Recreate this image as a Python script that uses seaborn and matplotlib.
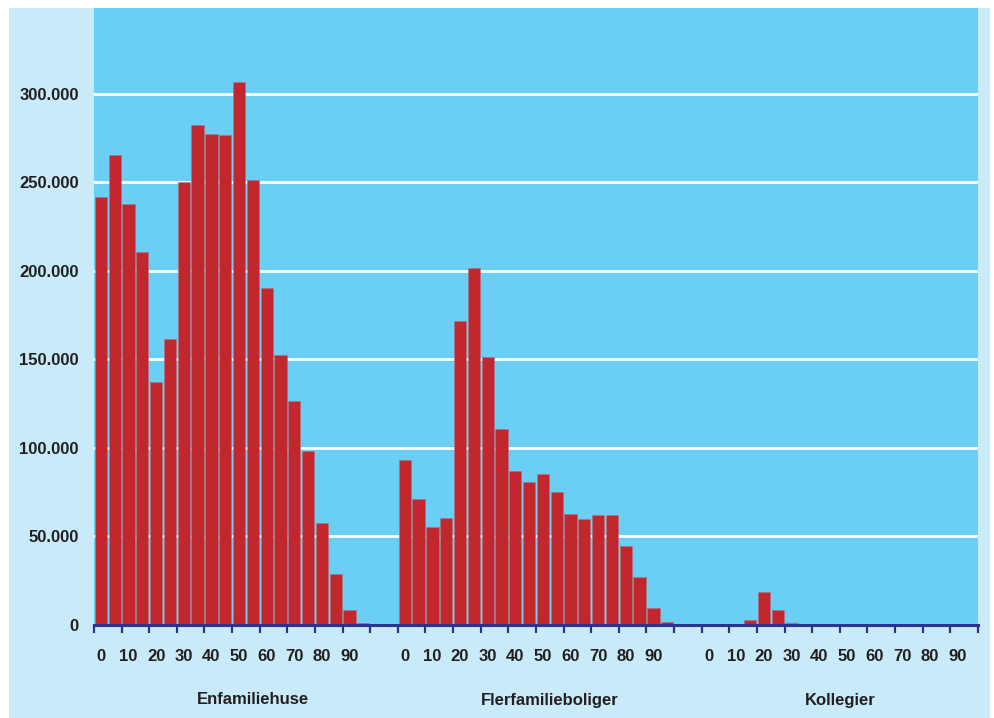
import numpy as np
import pandas as pd
import matplotlib
matplotlib.use("Agg")
import matplotlib.pyplot as plt
import matplotlib.transforms as mtransforms
from matplotlib.patches import Rectangle
from matplotlib.ticker import FuncFormatter
import seaborn as sns

# ---------------------------
# Data
# ---------------------------
ages = [0, 5, 10, 15, 20, 25, 30, 35, 40, 45, 50, 55, 60, 65, 70, 75, 80, 85, 90, 95]
groups = ["Enfamiliehuse", "Flerfamilieboliger", "Kollegier"]

enfamiliehuse = [241500, 265500, 238000, 210500, 137000, 161500, 250000, 282500, 277500, 277000,
                 306500, 251500, 190500, 152500, 126500, 98500, 57800, 28800, 8700, 1200]
flerfamilieboliger = [93200, 71300, 55300, 60200, 171900, 201900, 151500, 110800, 87000, 80800,
                      85300, 75100, 62600, 60000, 62000, 62000, 44500, 27200, 9400, 1500]
kollegier = [600, 0, 0, 3000, 18800, 8700, 1300, 500, 0, 0,
             0, 0, 0, 0, 0, 0, 0, 0, 0, 0]

tick_labels = ["0", "10", "20", "30", "40", "50", "60", "70", "80", "90"]
y_ticks = [0, 50000, 100000, 150000, 200000, 250000, 300000]

# each group takes 22 slots (20 bars + 2 empty), the last one is cut after 20
group_start = [0, 22, 44]
n_slots = 64

rows = []
for g, vals in zip(groups, [enfamiliehuse, flerfamilieboliger, kollegier]):
    start = group_start[groups.index(g)]
    for i, v in enumerate(vals):
        rows.append({"slot": start + i, "group": g, "age": ages[i], "value": v})
df = pd.DataFrame(rows)
# fill empty slots so the categorical axis has all 64 positions
full = pd.DataFrame({"slot": range(n_slots)})
df = full.merge(df, on="slot", how="left")
df["value"] = df["value"].fillna(0)

# ---------------------------
# Style
# ---------------------------
sns.set_style("white")
plt.rcParams["font.family"] = ["Liberation Sans", "DejaVu Sans"]
plt.rcParams["font.weight"] = "bold"

bar_red = "#C1272D"
plot_bg = "#6BCFF5"
outer_bg = "#C8EAF9"
navy = "#2E3192"
txt = "#231F20"
fs = 12

fig = plt.figure(figsize=(9.95, 7.18), dpi=100)
fig.patch.set_facecolor("white")
fig.patches.append(Rectangle((9 / 995, 0), 981 / 995, 710 / 718, transform=fig.transFigure,
                             facecolor=outer_bg, edgecolor="none", zorder=-10))

ax = fig.add_axes([94 / 995, 93 / 718, 884 / 995, 617 / 718])
ax.set_facecolor(plot_bg)

sns.barplot(x="slot", y="value", data=df, order=list(range(n_slots)), color=bar_red,
            saturation=1, width=0.89, edgecolor="#b07080", linewidth=0.4, ax=ax, zorder=3)

ax.set_xlim(-0.5, n_slots - 0.5)
ax.set_ylim(0, 348500)

# gridlines
ax.set_yticks(y_ticks)
ax.yaxis.grid(True, color="white", linewidth=2.0, zorder=1)
ax.set_axisbelow(True)
ax.yaxis.set_major_formatter(FuncFormatter(lambda v, p: f"{int(v):,}".replace(",", ".")))
ax.tick_params(axis="y", left=False, length=0, pad=11, labelsize=fs, labelcolor=txt)

# x ticks: marks every two slots, labels under the first bar of each decade
ax.set_xticks(np.arange(-0.5, n_slots, 2))
ax.set_xticklabels([])
ax.tick_params(axis="x", which="major", bottom=True, direction="out", length=6, width=1.6, color=navy)
label_pos = []
label_txt = []
for s in group_start:
    for k, t in enumerate(tick_labels):
        label_pos.append(s + 2 * k)
        label_txt.append(t)
ax.set_xticks(label_pos, minor=True)
ax.set_xticklabels(label_txt, minor=True)
ax.tick_params(axis="x", which="minor", bottom=True, length=0, pad=17, labelsize=fs, labelcolor=txt)

for side in ["left", "right", "top"]:
    ax.spines[side].set_visible(False)
ax.spines["bottom"].set_color(navy)
ax.spines["bottom"].set_linewidth(2.2)
ax.spines["bottom"].set_zorder(5)

ax.set_xlabel("")
ax.set_ylabel("")

# group names
trans = mtransforms.blended_transform_factory(ax.transData, fig.transFigure)
group_centers = [11.0, 32.5, 53.5]
for name, xc in zip(groups, group_centers):
    ax.text(xc, 18 / 718, name, transform=trans, ha="center", va="center",
            fontsize=fs, color=txt, fontweight="bold")

fig.savefig("out.png", dpi=100, facecolor=fig.get_facecolor())
